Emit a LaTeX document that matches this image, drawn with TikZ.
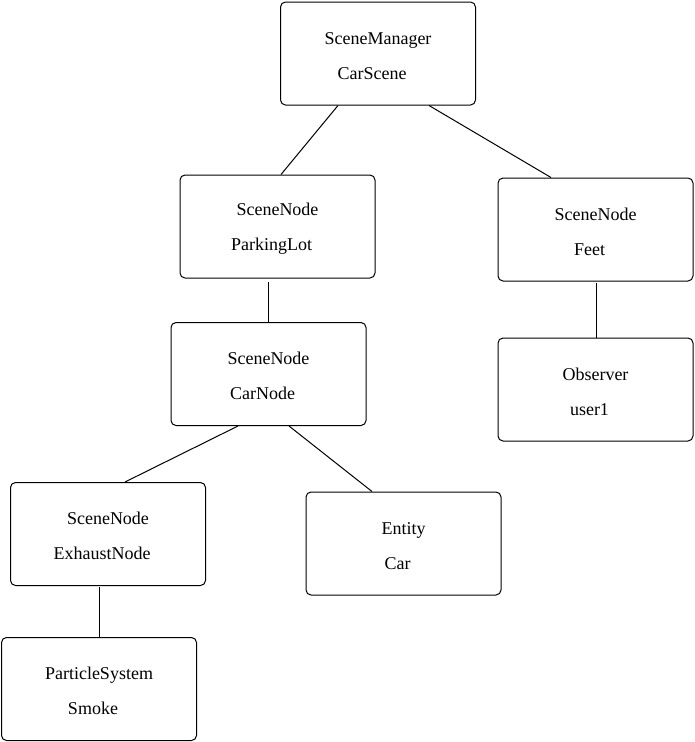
\documentclass[tikz,border=0pt]{standalone}
\usepackage{fontspec}
\setmainfont{Liberation Serif}
\usetikzlibrary{calc}
\tikzset{
  box/.style={draw, line width=1pt, rounded corners=5pt, minimum width=195pt, minimum height=103pt,
    inner sep=0pt, align=center, font=\fontsize{18}{35}\selectfont},
  link/.style={line width=1pt}
}
\newcommand{\firstln}[1]{\rule{0pt}{16.5pt}#1}
\newcommand{\secline}[1]{#1\rule{12pt}{0pt}}
\begin{document}
\begin{tikzpicture}[x=1pt,y=-1pt]
\useasboundingbox (0,0) rectangle (695,742);
\node[box] (sm)   at (378,53.5)  {\firstln{SceneManager}\\\secline{CarScene}};
\node[box] (pl)   at (277.5,226.5) {\firstln{SceneNode}\\\secline{ParkingLot}};
\node[box] (feet) at (595.5,229.5) {\firstln{SceneNode}\\\secline{Feet}};
\node[box] (cn)   at (268.5,374) {\firstln{SceneNode}\\\secline{CarNode}};
\node[box] (obs)  at (595.5,389.5) {\firstln{Observer}\\\secline{user1}};
\node[box] (exh)  at (108,534) {\firstln{SceneNode}\\\secline{ExhaustNode}};
\node[box] (ent)  at (403.5,543.5) {\firstln{Entity}\\\secline{Car}};
\node[box] (ps)   at (99,689) {\firstln{ParticleSystem}\\\secline{Smoke}};
\draw[link] ($(sm.south)+(-40,0)$) -- ($(pl.north)+(3.5,0)$);
\draw[link] ($(sm.south)+(51,0)$) -- ($(feet.north)+(-44.5,0)$);
\draw[link] ($(pl.south)+(-9.5,3)$) -- ($(cn.north)+(-0.5,0)$);
\draw[link] ($(feet.south)+(0.5,1)$) -- ($(obs.north)+(0.5,0)$);
\draw[link] ($(cn.south)+(-30.5,0)$) -- ($(exh.north)+(17,0)$);
\draw[link] ($(cn.south)+(20.5,0)$) -- ($(ent.north)+(-31.5,0)$);
\draw[link] ($(exh.south)+(-9,1)$) -- ($(ps.north)+(0,0)$);
\end{tikzpicture}
\end{document}
